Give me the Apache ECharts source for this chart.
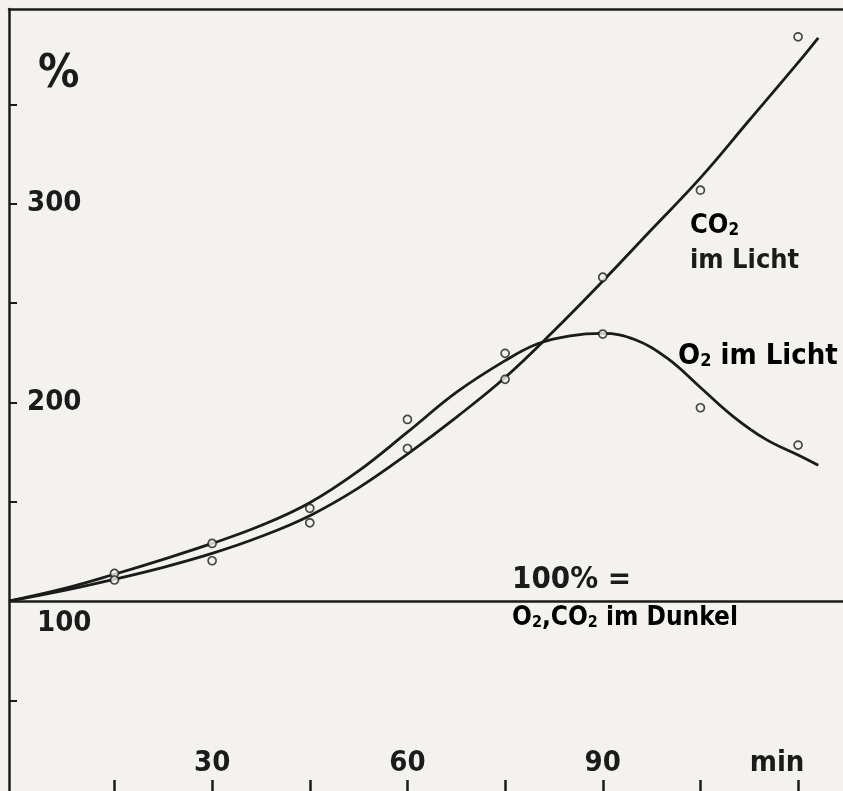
<!DOCTYPE html>
<html>
<head>
<meta charset="utf-8">
<script src="https://cdn.jsdelivr.net/npm/echarts@6/dist/echarts.min.js"></script>
<style>
html,body{margin:0;padding:0;background:#f3f2ee;}
#chart{width:843px;height:791px;}
</style>
</head>
<body>
<div id="chart"></div>
<script>
// ---- data ----
var xTicks = [15, 30, 45, 60, 75, 90, 105, 120];
var xTickLabels = [30, 60, 90, 120];
var yTicks = [50, 100, 150, 200, 250, 300, 350];
var yTickLabels = [100, 200, 300];

// measured points (min, % of dark value)
var o2Points  = [[15, 113.9], [30, 129.0], [45, 146.7], [60, 191.4], [75, 224.7], [90, 234.4], [105, 197.3], [120, 178.5]];
var co2Points = [[15, 110.6], [30, 120.3], [45, 139.4], [60, 176.8], [75, 211.6], [90, 263.0], [105, 306.8], [120, 384.0]];

// drawn (fitted) curves
var o2Curve  = [[-1.2, 100], [7.5, 106.5], [15, 113.5], [22.5, 121], [30, 129], [37.5, 138], [45, 149.5], [52.5, 165.5], [60, 185], [67.5, 205], [75, 221], [80, 229.5], [85, 233.5], [90, 234.7], [95, 231.5], [100, 222], [105, 207.5], [110, 193], [115, 181.5], [120, 173.5], [123.1, 168.4]];
var co2Curve = [[-1.2, 100], [7.5, 105.5], [15, 111], [22.5, 117], [30, 124], [37.5, 132.5], [45, 143], [52.5, 157], [60, 174], [67.5, 192.5], [75, 212.5], [82.5, 236], [90, 261], [97.5, 287], [105, 313], [112.5, 342], [120, 371], [123.1, 383.5]];

var baseLine = 100;

var INK = '#1b1b1b';
var BG = '#f3f2ee';
var FONT = '"DejaVu Sans Condensed", "DejaVu Sans", sans-serif';

var chart = echarts.init(document.getElementById('chart'), null, {renderer: 'canvas'});

var option = {
  backgroundColor: BG,
  animation: false,
  grid: {left: 9, top: 9, right: 0, bottom: 0, containLabel: false, outerBoundsMode: 'none'},
  xAxis: [{
    type: 'value', min: -1.2, max: 126.9, position: 'bottom',
    axisLine: {show: false, onZero: false},
    axisTick: {show: true, inside: true, length: 11, customValues: xTicks, lineStyle: {color: INK, width: 2.5}},
    axisLabel: {
      show: true, inside: true, margin: 13, customValues: xTickLabels,
      color: INK, fontFamily: FONT, fontWeight: 'bold', fontSize: 29,
      formatter: function (v) { return v === 120 ? '{m|min}' : String(v); },
      rich: {m: {fontFamily: FONT, fontWeight: 'bold', fontSize: 29, color: INK, padding: [0, 42, 0, 0]}}
    },
    splitLine: {show: false}
  }, {
    type: 'value', min: -1.2, max: 126.9, position: 'top',
    axisLine: {show: true, onZero: false, lineStyle: {color: INK, width: 2.5}},
    axisTick: {show: false}, axisLabel: {show: false}, splitLine: {show: false}
  }],
  yAxis: [{
    type: 'value', min: 4.4, max: 398, position: 'left',
    axisLine: {show: true, onZero: false, lineStyle: {color: INK, width: 2.5}},
    axisTick: {show: true, inside: true, length: 8, customValues: yTicks, lineStyle: {color: INK, width: 2}},
    axisLabel: {
      show: true, inside: true, margin: 18, customValues: yTickLabels,
      color: INK, fontFamily: FONT, fontWeight: 'bold', fontSize: 29,
      formatter: function (v) { return v === 100 ? '{d|100}' : String(v); },
      rich: {d: {fontFamily: FONT, fontWeight: 'bold', fontSize: 29, color: INK, padding: [44, 0, 0, 10]}}
    },
    splitLine: {show: false}
  }],
  series: [{
    name: 'O2 im Licht', type: 'line', data: o2Curve, smooth: 0.4, showSymbol: false,
    lineStyle: {color: INK, width: 2.8}, z: 3,
    markLine: {
      silent: true, symbol: 'none', label: {show: false},
      lineStyle: {color: INK, width: 2.5, type: 'solid'},
      data: [{yAxis: baseLine}]
    }
  }, {
    name: 'CO2 im Licht', type: 'line', data: co2Curve, smooth: 0.4, showSymbol: false,
    lineStyle: {color: INK, width: 2.8}, z: 3
  }, {
    name: 'O2 Messwerte', type: 'scatter', data: o2Points, symbol: 'circle', symbolSize: 8,
    itemStyle: {color: BG, borderColor: INK, borderWidth: 1.7}, z: 5
  }, {
    name: 'CO2 Messwerte', type: 'scatter', data: co2Points, symbol: 'circle', symbolSize: 8,
    itemStyle: {color: BG, borderColor: INK, borderWidth: 1.7}, z: 5
  }],
  graphic: [
    {type: 'text', left: 38, top: 52, style: {text: '%', fontFamily: FONT, fontWeight: 'bold', fontSize: 46, fill: INK}},
    {type: 'text', x: 690, y: 226, style: {
      text: '{n|CO}{s|2}', verticalAlign: 'middle',
      rich: {n: {fontFamily: FONT, fontWeight: 'bold', fontSize: 27, color: INK},
             s: {fontFamily: FONT, fontWeight: 'bold', fontSize: 17, color: INK, verticalAlign: 'bottom', lineHeight: 16}}
    }},
    {type: 'text', x: 690, y: 261, style: {text: 'im Licht', verticalAlign: 'middle', fontFamily: FONT, fontWeight: 'bold', fontSize: 27, fill: INK}},
    {type: 'text', x: 678, y: 356, style: {
      text: '{n|O}{s|2}{n| im Licht}', verticalAlign: 'middle',
      rich: {n: {fontFamily: FONT, fontWeight: 'bold', fontSize: 29, color: INK},
             s: {fontFamily: FONT, fontWeight: 'bold', fontSize: 18, color: INK, verticalAlign: 'bottom', lineHeight: 17}}
    }},
    {type: 'text', x: 512, y: 580, style: {text: '100% =', verticalAlign: 'middle', fontFamily: FONT, fontWeight: 'bold', fontSize: 31, fill: INK}},
    {type: 'text', x: 512, y: 618, style: {
      text: '{n|O}{s|2}{n|,CO}{s|2}{n| im Dunkel}', verticalAlign: 'middle',
      rich: {n: {fontFamily: FONT, fontWeight: 'bold', fontSize: 26, color: INK},
             s: {fontFamily: FONT, fontWeight: 'bold', fontSize: 16, color: INK, verticalAlign: 'bottom', lineHeight: 15}}
    }}
  ]
};
chart.setOption(option);
</script>
</body>
</html>
